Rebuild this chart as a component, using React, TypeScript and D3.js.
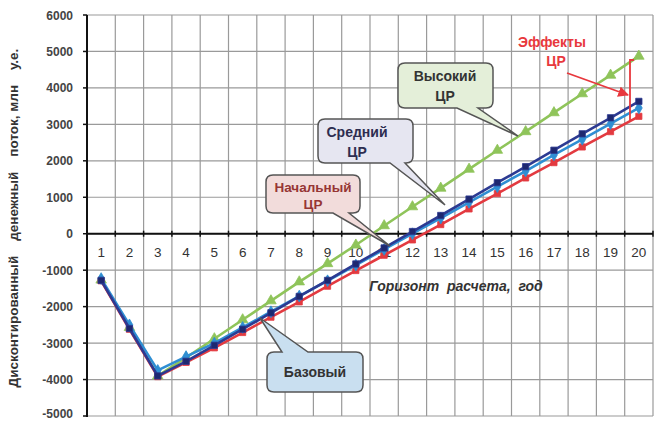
import React from "react";
import * as d3 from "d3";

const years = Array.from({ length: 20 }, (_, i) => String(i + 1));
const yTicks = [6000, 5000, 4000, 3000, 2000, 1000, 0, -1000, -2000, -3000, -4000, -5000];

const seriesGreen = [-1270, -2570, -3900, -3400, -2880, -2360, -1840, -1320, -820, -310, 220, 740, 1250, 1770, 2290, 2800, 3320, 3840, 4350, 4870];
const seriesRed = [-1290, -2620, -3920, -3530, -3130, -2710, -2290, -1870, -1440, -1010, -590, -170, 250, 680, 1100, 1530, 1950, 2380, 2800, 3220];
const seriesBase = [-1230, -2500, -3750, -3370, -3000, -2570, -2140, -1710, -1290, -860, -430, 0, 430, 860, 1290, 1720, 2160, 2590, 3020, 3450];
const seriesNavy = [-1280, -2600, -3900, -3500, -3060, -2620, -2170, -1720, -1280, -830, -390, 60, 500, 950, 1400, 1840, 2290, 2740, 3180, 3630];

const W = 654, H = 421;
const x = d3.scaleBand<string>().domain(years).range([87, 653]).padding(0);
const y = d3.scaleLinear().domain([-5000, 6000]).range([416, 15]);
const cx = (i: number) => (x(years[i]) as number) + x.bandwidth() / 2;

const lineGen = d3.line<number>().x((_, i) => cx(i)).y((d) => y(d));

function calloutBottom(bx: number, by: number, w: number, h: number, r: number, xa: number, xb: number, tx: number, ty: number) {
  return `M${bx + r},${by} H${bx + w - r} Q${bx + w},${by} ${bx + w},${by + r} V${by + h - r} Q${bx + w},${by + h} ${bx + w - r},${by + h} H${xb} L${tx},${ty} L${xa},${by + h} H${bx + r} Q${bx},${by + h} ${bx},${by + h - r} V${by + r} Q${bx},${by} ${bx + r},${by} Z`;
}
function calloutTop(bx: number, by: number, w: number, h: number, r: number, xa: number, xb: number, tx: number, ty: number) {
  return `M${bx + r},${by} H${xa} L${tx},${ty} L${xb},${by} H${bx + w - r} Q${bx + w},${by} ${bx + w},${by + r} V${by + h - r} Q${bx + w},${by + h} ${bx + w - r},${by + h} H${bx + r} Q${bx},${by + h} ${bx},${by + h - r} V${by + r} Q${bx},${by} ${bx + r},${by} Z`;
}

const font = "'Liberation Sans', Arial, sans-serif";

function Series({ data, color, markerColor, symbol, size }: { data: number[]; color: string; markerColor: string; symbol: d3.SymbolType; size: number }) {
  const sym = d3.symbol().type(symbol).size(size)() as string;
  return (
    <g>
      <path d={lineGen(data) as string} fill="none" stroke={color} strokeWidth={2.6} strokeLinejoin="round" />
      {data.map((d, i) => (
        <path key={i} d={sym} transform={`translate(${cx(i)},${y(d)})`} fill={markerColor} stroke={color} strokeWidth={0.8} />
      ))}
    </g>
  );
}

export default function App() {
  return (
    <svg width={W} height={H} style={{ position: "absolute", left: 0, top: 0, background: "#fff" }} fontFamily={font}>
      <defs>
        <marker id="arr" viewBox="0 0 10 10" refX="9" refY="5" markerWidth="6" markerHeight="6" orient="auto">
          <path d="M0,0 L10,5 L0,10 z" fill="#e8383d" />
        </marker>
      </defs>
      {/* grid */}
      {yTicks.map((t) => (
        <line key={"h" + t} x1={87} x2={653} y1={y(t)} y2={y(t)} stroke="#9a9a9a" strokeWidth={1.2} />
      ))}
      {years.map((yr) => (
        <line key={"v" + yr} x1={(x(yr) as number) + x.bandwidth()} x2={(x(yr) as number) + x.bandwidth()} y1={15} y2={416} stroke="#9a9a9a" strokeWidth={1.2} />
      ))}
      {/* axes */}
      <line x1={87} x2={87} y1={15} y2={417} stroke="#111" strokeWidth={2} />
      <line x1={87} x2={653} y1={y(0)} y2={y(0)} stroke="#111" strokeWidth={2} />
      {yTicks.map((t) => (
        <line key={"yt" + t} x1={83} x2={87} y1={y(t)} y2={y(t)} stroke="#111" strokeWidth={1.5} />
      ))}
      {years.map((yr) => (
        <line key={"xt" + yr} x1={(x(yr) as number) + x.bandwidth()} x2={(x(yr) as number) + x.bandwidth()} y1={y(0) - 3} y2={y(0) + 3} stroke="#111" strokeWidth={1.5} />
      ))}
      {yTicks.map((t) => (
        <text key={"yl" + t} x={73} y={Math.min(y(t) + 4.5, 418)} textAnchor="end" fontSize={12} fontWeight={700} fill="#444">{t}</text>
      ))}
      {years.map((yr, i) => (
        <text key={"xl" + yr} x={cx(i)} y={y(0) + 23} textAnchor="middle" fontSize={13.5} fill="#333">{yr}</text>
      ))}
      {/* axis titles */}
      <text transform="translate(18,218) rotate(-90)" textAnchor="middle" fontSize={13.5} fontWeight={700} fill="#333" style={{ whiteSpace: "pre" }}>
        {"Дисконтированный    денежный    поток, млн    у.е."}
      </text>
      <text x={456} y={291} textAnchor="middle" fontSize={14} fontWeight={700} fontStyle="italic" fill="#333" style={{ whiteSpace: "pre" }}>
        {"Горизонт  расчета,  год"}
      </text>
      {/* series */}
      <Series data={seriesGreen} color="#8fc45a" markerColor="#8fc45a" symbol={d3.symbolTriangle} size={48} />
      <Series data={seriesRed} color="#e33a40" markerColor="#e33a40" symbol={d3.symbolSquare} size={38} />
      <Series data={seriesBase} color="#2f8ed3" markerColor="#2f8ed3" symbol={d3.symbolDiamond} size={40} />
      <Series data={seriesNavy} color="#2c3a92" markerColor="#1e2870" symbol={d3.symbolSquare} size={40} />
      {/* callouts */}
      <path d={calloutBottom(398, 63, 95, 45, 7, 457, 478, 518, 136)} fill="#e4efd9" stroke="#555" strokeWidth={1.5} />
      <text x={445} y={81} textAnchor="middle" fontSize={14} fontWeight={700} fill="#333">Высокий</text>
      <text x={445} y={101} textAnchor="middle" fontSize={14} fontWeight={700} fill="#333">ЦР</text>

      <path d={calloutBottom(318, 119, 95, 44, 7, 390, 405, 445, 205)} fill="#e6e6f1" stroke="#555" strokeWidth={1.5} />
      <text x={357} y={137} textAnchor="middle" fontSize={14} fontWeight={700} fill="#2d2d50">Средний</text>
      <text x={357} y={157} textAnchor="middle" fontSize={14} fontWeight={700} fill="#2d2d50">ЦР</text>

      <path d={calloutBottom(266, 175, 94, 38, 7, 333, 349, 390, 246)} fill="#f2dcdb" stroke="#555" strokeWidth={1.5} />
      <text x={313} y={192} textAnchor="middle" fontSize={13.5} fontWeight={700} fill="#963634">Начальный</text>
      <text x={313} y={209} textAnchor="middle" fontSize={13.5} fontWeight={700} fill="#963634">ЦР</text>

      <path d={calloutTop(267, 352, 96, 40, 7, 282, 308, 260, 318)} fill="#c9dff0" stroke="#555" strokeWidth={1.5} />
      <text x={315} y={377} textAnchor="middle" fontSize={14} fontWeight={700} fill="#333">Базовый</text>

      {/* effects annotation */}
      <text x={552} y={47} textAnchor="middle" fontSize={14} fontWeight={700} fill="#e8383d">Эффекты</text>
      <text x={556} y={66} textAnchor="middle" fontSize={14} fontWeight={700} fill="#e8383d">ЦР</text>
      <line x1={567} y1={73} x2={628} y2={95} stroke="#e8383d" strokeWidth={1.8} markerEnd="url(#arr)" />
      <path d="M630,121 V60 H634" fill="none" stroke="#e8383d" strokeWidth={1.8} />
    </svg>
  );
}
